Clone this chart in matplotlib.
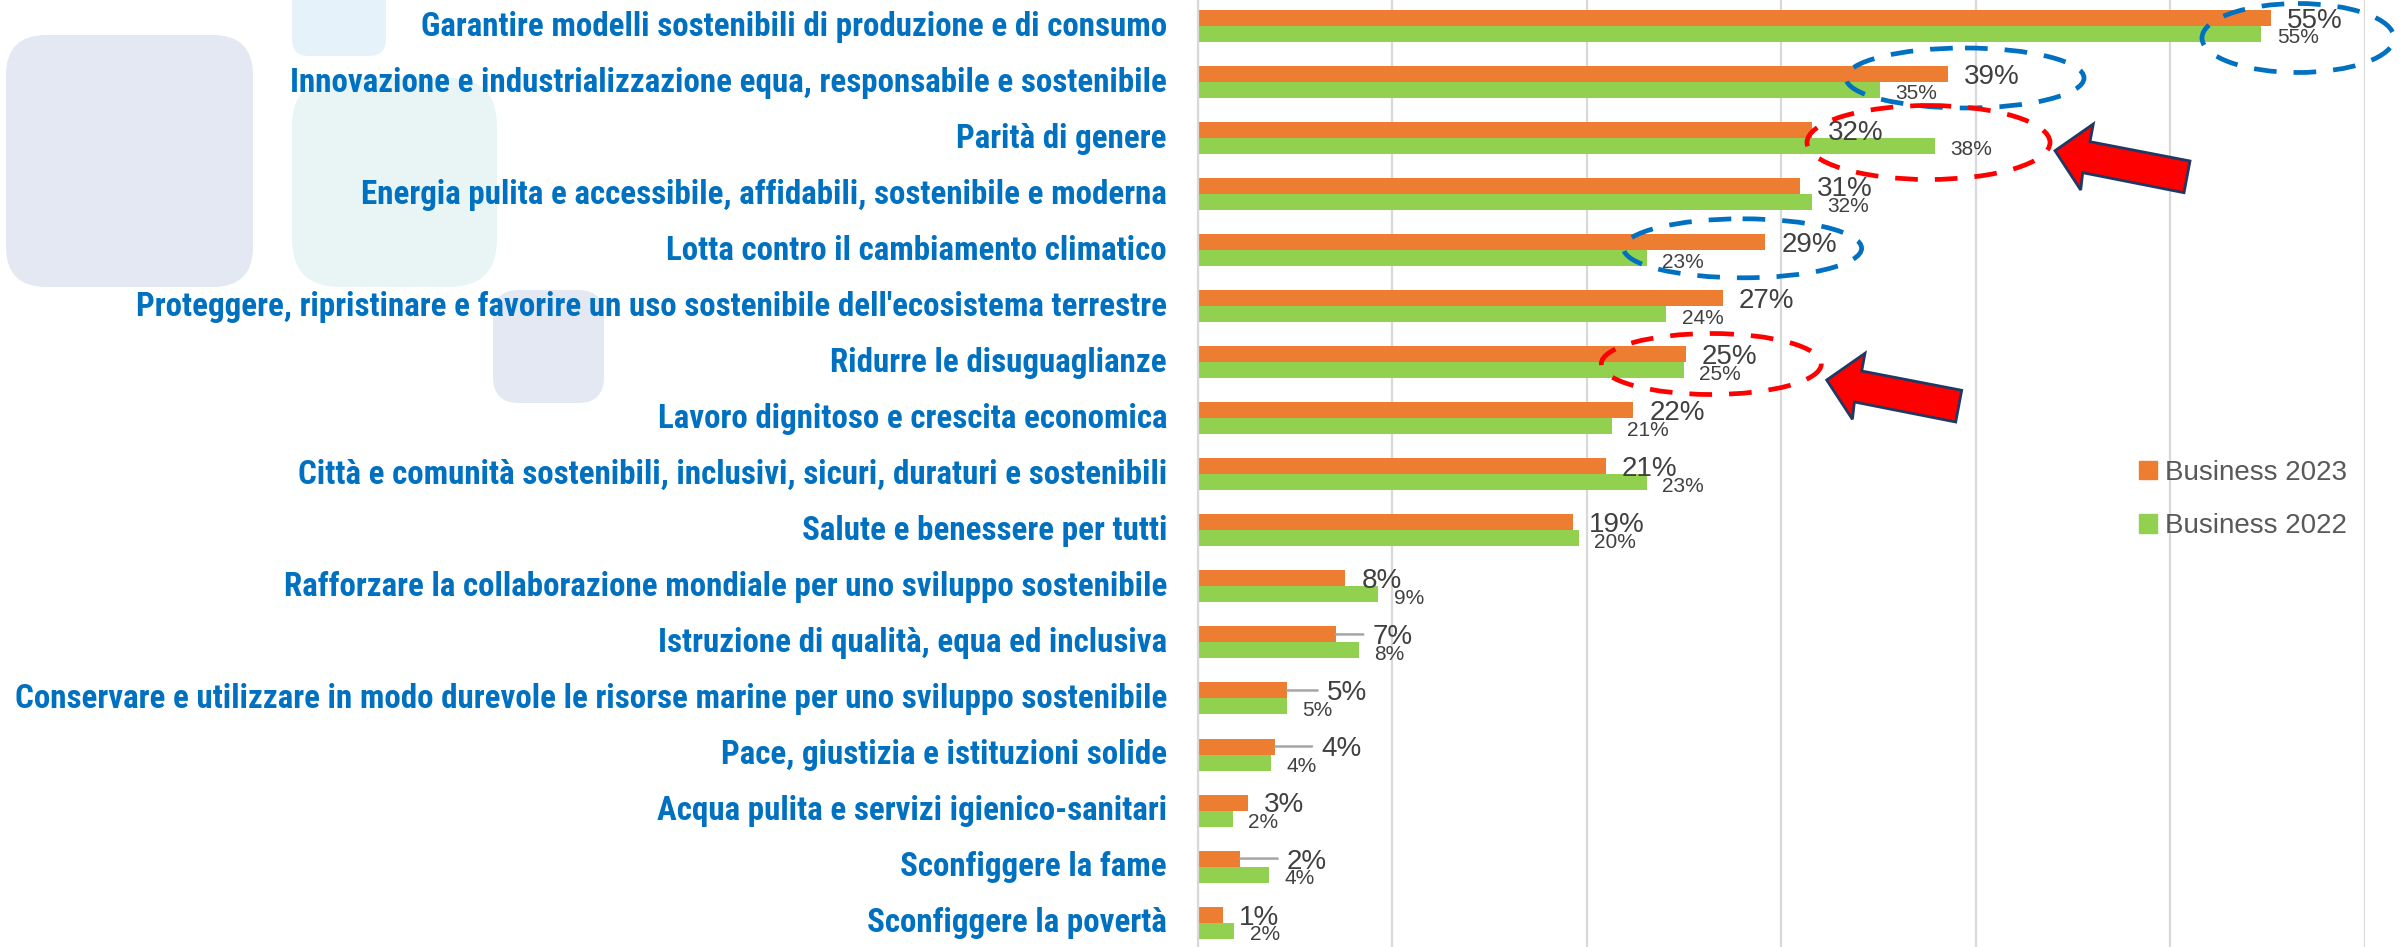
import matplotlib
matplotlib.use("Agg")
import matplotlib.pyplot as plt
from matplotlib import font_manager
from matplotlib.font_manager import FontProperties
from matplotlib.patches import Ellipse, FancyBboxPatch, Polygon, Patch
from matplotlib.transforms import ScaledTranslation

# ---------------------------------------------------------------------------
# data (top to bottom, as in the chart)
# ---------------------------------------------------------------------------
categories = [
    "Garantire modelli sostenibili di produzione e di consumo",
    "Innovazione e industrializzazione equa, responsabile e sostenibile",
    "Parità di genere",
    "Energia pulita e accessibile, affidabili, sostenibile e moderna",
    "Lotta contro il cambiamento climatico",
    "Proteggere, ripristinare e favorire un uso sostenibile dell'ecosistema terrestre",
    "Ridurre le disuguaglianze",
    "Lavoro dignitoso e crescita economica",
    "Città e comunità sostenibili, inclusivi, sicuri, duraturi e sostenibili",
    "Salute e benessere per tutti",
    "Rafforzare la collaborazione mondiale per uno sviluppo sostenibile",
    "Istruzione di qualità, equa ed inclusiva",
    "Conservare e utilizzare in modo durevole le risorse marine per uno sviluppo sostenibile",
    "Pace, giustizia e istituzioni solide",
    "Acqua pulita e servizi igienico-sanitari",
    "Sconfiggere la fame",
    "Sconfiggere la povertà",
]
business_2023 = [55.2, 38.6, 31.6, 31.0, 29.2, 27.0, 25.1, 22.4, 21.0, 19.3,
                 7.6, 7.1, 4.6, 4.0, 2.6, 2.2, 1.3]
business_2022 = [54.7, 35.1, 37.9, 31.6, 23.1, 24.1, 25.0, 21.3, 23.1, 19.6,
                 9.3, 8.3, 4.6, 3.8, 1.8, 3.7, 1.9]
series_names = ["Business 2023", "Business 2022"]

ORANGE = "#ED7D31"
GREEN = "#92D050"
BLUE = "#0070C0"
RED = "#FF0000"
GRID = "#D9D9D9"
LABEL_GRAY = "#404040"

W, H, DPI = 2407, 947, 100
PX = 72.0 / DPI  # points per pixel


def pick_font(names):
    for n in names:
        try:
            font_manager.findfont(FontProperties(family=n), fallback_to_default=False)
            return n
        except ValueError:
            continue
    return "DejaVu Sans"


def condensed_bold():
    # look for a narrow / condensed bold face among the installed fonts
    pref = ["Liberation Sans Narrow", "Roboto Condensed", "Noto Sans",
            "Open Sans", "DejaVu Sans", "Roboto"]
    best = None
    for f in font_manager.fontManager.ttflist:
        narrow = (f.stretch in ("condensed", "semi-condensed", "extra-condensed")
                  or "Narrow" in f.name or "Condensed" in f.name)
        if not narrow or f.style != "normal":
            continue
        w = f.weight if isinstance(f.weight, int) else 700 if f.weight == "bold" else 400
        if w < 600 or w > 800:
            continue
        rank = next((k for k, p in enumerate(pref) if f.name.startswith(p)), len(pref))
        if f.stretch == "extra-condensed":
            rank += 10
        if best is None or rank < best[0]:
            best = (rank, f.fname)
    if best is None:
        return FontProperties(family=pick_font(["Liberation Sans", "DejaVu Sans"]),
                              weight="bold")
    return FontProperties(fname=best[1])


cat_prop = condensed_bold()
num_font = pick_font(["Liberation Sans", "DejaVu Sans"])

fig = plt.figure(figsize=(W / DPI, H / DPI), dpi=DPI)

# background decoration (rounded squares on the left)
bg = fig.add_axes([0, 0, 1, 1], zorder=0)
bg.set_xlim(0, W)
bg.set_ylim(H, 0)
bg.axis("off")
for (x0, y0, x1, y1, r, col) in [
    (292, -30, 386, 56, 17, "#E6F2F9"),
    (6, 35, 253, 287, 40, "#E4E8F2"),
    (292, 78, 497, 287, 48, "#E8F5F4"),
    (493, 290, 604, 403, 26, "#E4E8F2"),
]:
    bg.add_patch(FancyBboxPatch((x0, y0), x1 - x0, y1 - y0,
                                boxstyle="round,pad=0,rounding_size=%d" % r,
                                fc=col, ec="none"))

# main chart
ax = fig.add_axes([1197.5 / W, 0, (2364.5 - 1197.5) / W, 1], zorder=1)
ax.patch.set_alpha(0)

n = len(categories)
rows = list(range(n))
h = 16 / 56.04
ax.barh([r - h / 2 for r in rows], business_2023, height=h, color=ORANGE, zorder=2)
ax.barh([r + h / 2 for r in rows], business_2022, height=h, color=GREEN, zorder=2)

ax.set_xlim(0, 60)
ax.set_ylim(16.435, -0.464)
ax.set_xticks(range(0, 61, 10))
ax.tick_params(axis="x", length=0, labelbottom=False)
ax.grid(axis="x", color=GRID, lw=1.6)
ax.set_axisbelow(True)
for s in ["top", "right", "bottom"]:
    ax.spines[s].set_visible(False)
ax.spines["left"].set_color(GRID)
ax.spines["left"].set_linewidth(1.6)

ax.set_yticks(rows)
ax.set_yticklabels(categories, fontproperties=cat_prop, color=BLUE)
for t in ax.get_yticklabels():
    t.set_fontsize(22)
ax.tick_params(axis="y", length=0, pad=30.5 * PX)

# data labels
fs_big, fs_small = 20, 15
leader = {11: 36.7, 12: 39.7, 13: 45.7, 15: 46.4}  # moved labels (px from bar end)
for i in rows:
    v1, v2 = business_2023[i], business_2022[i]
    dx = leader.get(i, 16.0)
    ax.annotate(f"{v1:.0f}%", (v1, i - h / 2), xytext=(dx * PX, -0.358 * fs_big),
                textcoords="offset points", ha="left", va="baseline",
                fontsize=fs_big, family=num_font, color=LABEL_GRAY, zorder=4)
    if i in leader:
        ax.annotate("", (v1, i - h / 2), xytext=((dx - 9) * PX, 0),
                    textcoords="offset points",
                    arrowprops=dict(arrowstyle="-", color="#A6A6A6", lw=1.8,
                                    shrinkA=0, shrinkB=0))
    ax.annotate(f"{v2:.0f}%", (v2, i + h / 2), xytext=(15.5 * PX, -0.358 * fs_small - 1.4),
                textcoords="offset points", ha="left", va="baseline",
                fontsize=fs_small, family=num_font, color=LABEL_GRAY, zorder=4)

handles = [Patch(color=ORANGE), Patch(color=GREEN)]
leg = ax.legend(handles, series_names, loc="center left",
                bbox_to_anchor=(2139.3 / W, 1 - 499.5 / H), bbox_transform=fig.transFigure,
                frameon=False, borderpad=0, borderaxespad=0,
                handlelength=0.62, handleheight=0.65, handletextpad=0.3,
                labelspacing=1.0, prop={"family": num_font, "size": 20})
for t in leg.get_texts():
    t.set_color("#595959")

# fit category labels to the width used in the reference, nudge them up a little
fig.canvas.draw()
r = fig.canvas.get_renderer()
widest = max(t.get_window_extent(r).width for t in ax.get_yticklabels())
scale = min(1153.0 / widest, 1.15)
shift = ScaledTranslation(0, 3.0 / DPI, fig.dpi_scale_trans)
for t in ax.get_yticklabels():
    t.set_fontsize(22 * scale)
    t.set_transform(t.get_transform() + shift)

# overlay: dashed ellipses and arrows
ov = fig.add_axes([0, 0, 1, 1], zorder=3)
ov.set_xlim(0, W)
ov.set_ylim(H, 0)
ov.axis("off")
for (cx, cy, ew, eh, col) in [
    (2298, 38, 192, 69, BLUE),
    (1965, 78, 238, 60, BLUE),
    (1928.5, 142.5, 243, 74, RED),
    (1742.6, 248.3, 238, 59, BLUE),
    (1711.3, 364, 220, 61, RED),
]:
    ov.add_patch(Ellipse((cx, cy), ew, eh, fill=False, ec=col, lw=3.4,
                         ls=(0, (4.8, 3.6)), clip_on=False))

arrow = [(0, 0), (38.3, -26.7), (35, -9), (135, 10.3), (129, 42), (27.7, 22), (25.7, 39.3)]
for (tx, ty) in [(2055, 150.7), (1826.7, 380)]:
    ov.add_patch(Polygon([(tx + px, ty + py) for px, py in arrow], closed=True,
                         fc=RED, ec="#1F3864", lw=2.0, joinstyle="miter"))

fig.savefig("out.png", dpi=DPI)
